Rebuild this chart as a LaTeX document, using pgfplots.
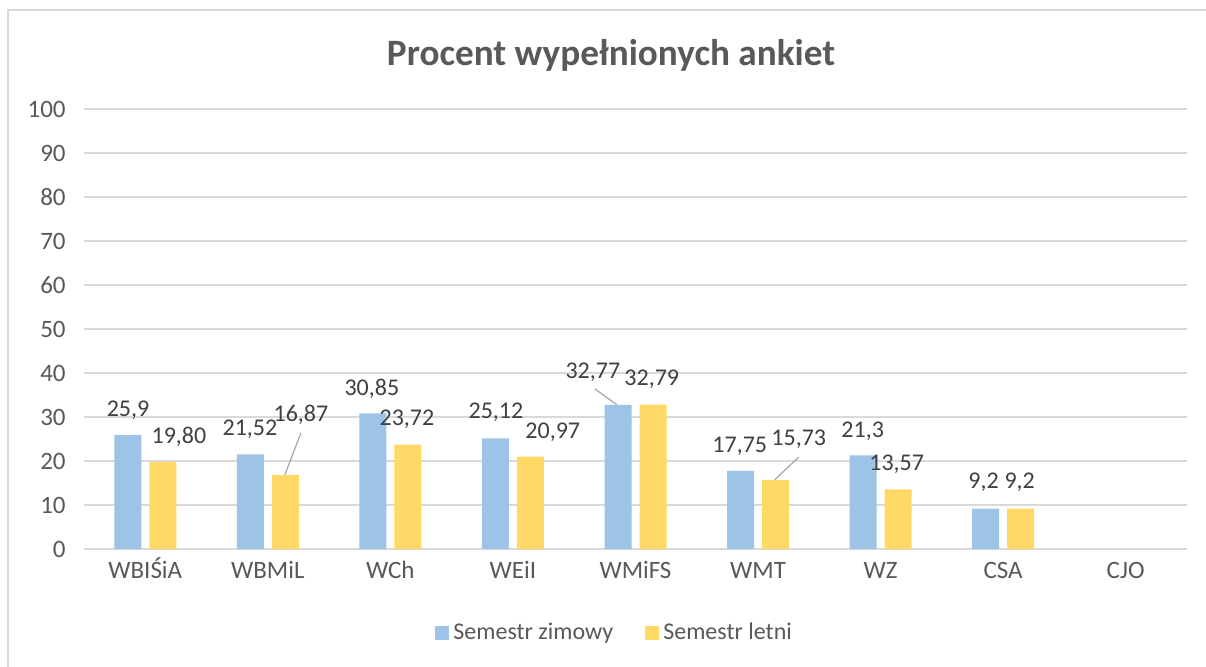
\documentclass[border=0pt]{standalone}
\usepackage{fontspec}
\setmainfont{Carlito}
\usepackage{pgfplots}
\usepackage{pgfplotstable}
\pgfplotsset{compat=1.18}
\definecolor{zima}{HTML}{9DC3E6}
\definecolor{lato}{HTML}{FFD966}
\definecolor{gridc}{HTML}{D9D9D9}
\definecolor{axtext}{HTML}{595959}
\definecolor{labtext}{HTML}{404040}
\definecolor{leader}{HTML}{A6A6A6}

% 0 = WBISiA ... 8 = CJO (no data)
\pgfplotstableread{
x zima lato
0 25.9  19.80
1 21.52 16.87
2 30.85 23.72
3 25.12 20.97
4 32.77 32.79
5 17.75 15.73
6 21.3  13.57
7 9.2   9.2
}\dane

% data label positions (moved by hand in the original)
\pgfplotstableread{
x y t
-0.141 31.6 25,9
0.275 25.5 19,80
0.854 27.3 21,52
1.270 30.5 16,87
1.849 36.4 30,85
2.135 29.5 23,72
2.861 31.1 25,12
3.325 26.6 20,97
3.652 40.2 32,77
4.133 38.6 32,79
4.851 23.4 17,75
5.332 25.0 15,73
5.854 26.8 21,3
6.131 19.3 13,57
6.840 15.2 9,2
7.135 15.2 9,2
}\etykiety

\begin{document}
\begin{tikzpicture}
\useasboundingbox (0,0) rectangle (603pt,333pt);
\fill[white] (0,0) rectangle (603pt,333pt);
\draw[gridc, line width=0.75pt] (4pt,-1pt) -- (4pt,328pt) -- (604pt,328pt);
\node[font=\fontsize{18.6}{20}\selectfont\bfseries, text=axtext] at (305.5pt,305.5pt) {Procent wypełnionych ankiet};
\begin{axis}[
  at={(42pt,58.5pt)}, anchor=south west,
  scale only axis, width=551.5pt, height=220pt,
  xmin=-0.5, xmax=8.5, ymin=0, ymax=100,
  xtick={0,...,8},
  xticklabels={WBIŚiA,WBMiL,WCh,WEiI,WMiFS,WMT,WZ,CSA,CJO},
  ytick={0,10,...,100},
  ymajorgrids, grid style={gridc, line width=0.75pt},
  axis line style={draw=none}, major tick length=0pt,
  tick label style={font=\fontsize{12.5}{14}\selectfont, text=axtext},
  /pgf/number format/assume math mode=true,
  xticklabel style={anchor=base, yshift=-14.5pt},
  yticklabel style={anchor=east, inner sep=0pt, xshift=-9pt},
  ybar=4pt, bar width=13.5pt,
  legend style={at={(0.482,-0.191)}, anchor=center, draw=none, fill=none,
    legend columns=-1, font=\fontsize{12}{14}\selectfont, text=axtext,
    /tikz/every even column/.append style={column sep=14pt}},
  legend image code/.code={\fill[#1] (0pt,-3.5pt) rectangle (7pt,3.5pt);},
]
\addplot[fill=zima, draw=none] table[x=x, y=zima] {\dane};
\addplot[fill=lato, draw=none] table[x=x, y=lato] {\dane};
\legend{Semestr zimowy, Semestr letni}
\end{axis}
\begin{axis}[
  at={(42pt,58.5pt)}, anchor=south west,
  scale only axis, width=551.5pt, height=220pt,
  xmin=-0.5, xmax=8.5, ymin=0, ymax=100,
  hide axis, clip=false,
]
\addplot[draw=leader, line width=0.6pt] coordinates {(1.270,26.4) (1.139,16.87)};
\addplot[draw=leader, line width=0.6pt] coordinates {(3.668,36.4) (3.848,32.77)};
\addplot[draw=leader, line width=0.6pt] coordinates {(5.332,20.9) (5.136,15.73)};
\addplot[only marks, mark=none, point meta=explicit symbolic,
  nodes near coords, nodes near coords align={center},
  nodes near coords style={anchor=center, inner sep=0pt, text=labtext, font=\fontsize{12}{14}\selectfont}]
  table[x=x, y=y, meta=t] {\etykiety};
\end{axis}
\end{tikzpicture}
\end{document}
